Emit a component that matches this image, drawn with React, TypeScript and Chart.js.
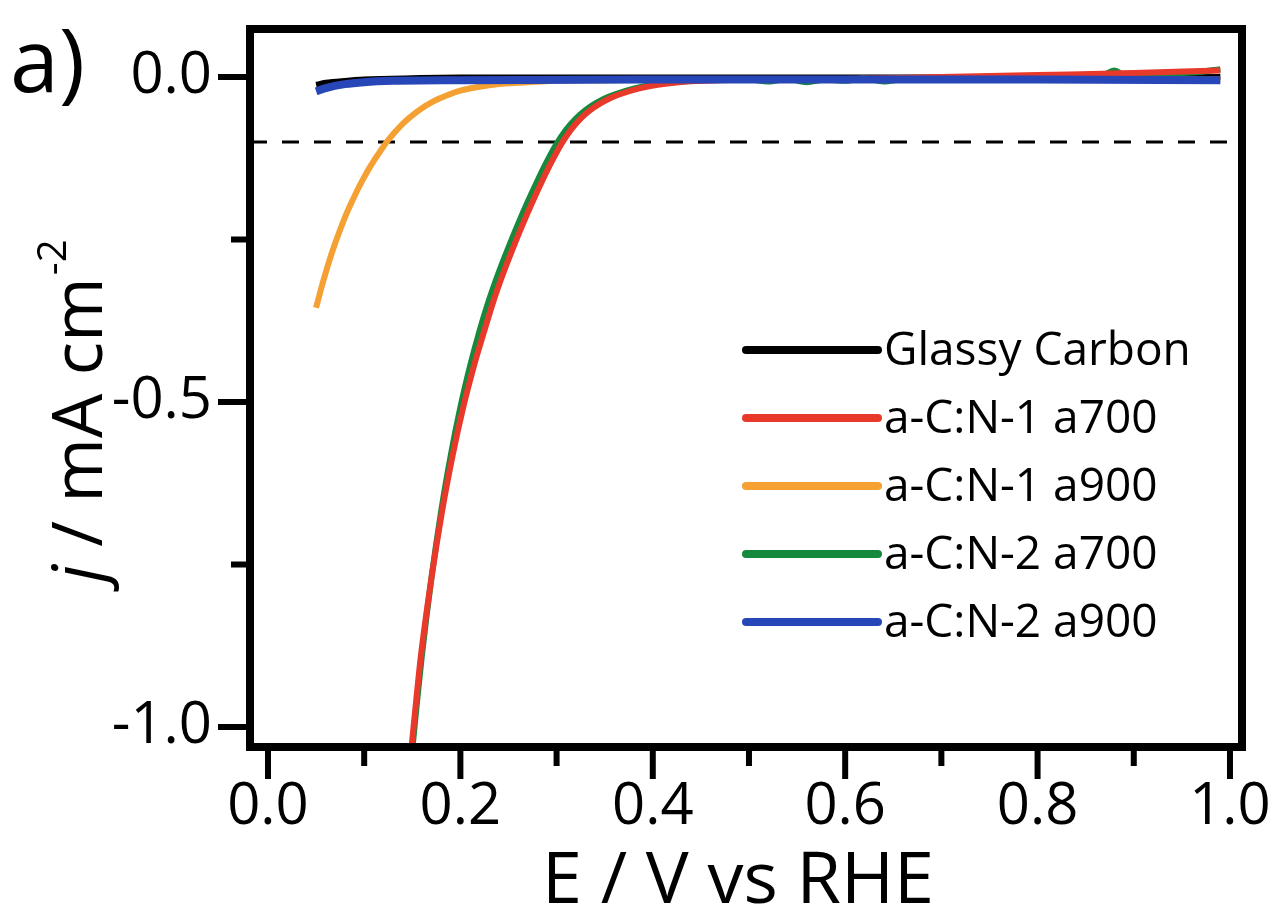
import { useEffect, useRef } from "react";
import { Chart, registerables } from "chart.js";

Chart.register(...registerables);

const FONT = '"Open Sans", "Noto Sans", sans-serif';

// Series names and colours (legend order)
const seriesNames = ["Glassy Carbon", "a-C:N-1 a700", "a-C:N-1 a900", "a-C:N-2 a700", "a-C:N-2 a900"];
const seriesColors = ["#000000", "#e8392b", "#f5a033", "#17893d", "#2747b8"];

// Glassy Carbon
const glassyE = [0.05, 0.06, 0.08, 0.1, 0.15, 0.2, 0.3, 0.4, 0.5, 0.6, 0.7, 0.8, 0.9, 0.99];
const glassyJ = [-0.012, -0.009, -0.006, -0.004, -0.002, -0.001, -0.001, -0.001, -0.001, -0.001, -0.001, -0.001, -0.001, 0.0];

// a-C:N-1 a700
const n1a700E = [0.146, 0.149, 0.154, 0.159, 0.17, 0.181, 0.192, 0.203, 0.214, 0.225, 0.235, 0.245, 0.255, 0.265, 0.275, 0.285, 0.295, 0.305, 0.315, 0.325, 0.335, 0.345, 0.355, 0.365, 0.385, 0.405, 0.435, 0.47, 0.5, 0.6, 0.7, 0.8, 0.9, 0.99];
const n1a700J = [-1.08, -1.035, -0.96, -0.89, -0.77, -0.668, -0.582, -0.508, -0.445, -0.39, -0.342, -0.3, -0.262, -0.226, -0.192, -0.16, -0.13, -0.103, -0.081, -0.064, -0.051, -0.041, -0.033, -0.027, -0.018, -0.012, -0.007, -0.005, -0.004, -0.003, 0.0, 0.003, 0.006, 0.01];

// a-C:N-1 a900
const n1a900E = [0.05, 0.055, 0.06, 0.065, 0.07, 0.075, 0.08, 0.085, 0.09, 0.095, 0.1, 0.105, 0.11, 0.115, 0.12, 0.125, 0.13, 0.14, 0.15, 0.16, 0.17, 0.18, 0.19, 0.2, 0.22, 0.24, 0.26, 0.3, 0.35, 0.4, 0.5, 0.6, 0.7, 0.8, 0.9, 0.99];
const n1a900J = [-0.355, -0.327, -0.301, -0.277, -0.255, -0.235, -0.216, -0.199, -0.183, -0.168, -0.154, -0.141, -0.129, -0.118, -0.107, -0.097, -0.088, -0.072, -0.059, -0.048, -0.039, -0.032, -0.026, -0.021, -0.015, -0.011, -0.009, -0.006, -0.005, -0.004, -0.004, -0.004, -0.004, -0.004, -0.004, -0.004];

// a-C:N-2 a700
const n2a700E = [0.147, 0.15, 0.155, 0.16, 0.17, 0.18, 0.19, 0.2, 0.21, 0.22, 0.23, 0.24, 0.25, 0.26, 0.27, 0.28, 0.29, 0.3, 0.31, 0.32, 0.33, 0.34, 0.35, 0.36, 0.38, 0.4, 0.43, 0.46, 0.5, 0.52, 0.54, 0.56, 0.58, 0.6, 0.62, 0.64, 0.66, 0.7, 0.75, 0.8, 0.85, 0.87, 0.88, 0.89, 0.92, 0.95, 0.97, 0.99];
const n2a700J = [-1.08, -1.035, -0.96, -0.89, -0.77, -0.668, -0.582, -0.508, -0.445, -0.39, -0.342, -0.3, -0.262, -0.226, -0.192, -0.16, -0.13, -0.103, -0.081, -0.064, -0.051, -0.041, -0.033, -0.027, -0.018, -0.012, -0.007, -0.005, -0.004, -0.007, -0.003, -0.008, -0.004, -0.006, -0.002, -0.007, -0.003, -0.002, -0.001, 0.0, 0.002, 0.004, 0.01, 0.003, 0.005, 0.006, 0.008, 0.012];

// a-C:N-2 a900
const n2a900E = [0.05, 0.06, 0.08, 0.1, 0.13, 0.2, 0.4, 0.6, 0.8, 0.99];
const n2a900J = [-0.022, -0.017, -0.011, -0.008, -0.006, -0.005, -0.004, -0.004, -0.004, -0.005];

const seriesE = [glassyE, n1a700E, n1a900E, n2a700E, n2a900E];
const seriesJ = [glassyJ, n1a700J, n1a900J, n2a700J, n2a900J];
// drawing order: higher number is painted underneath
const seriesOrder = [4, 1, 3, 2, 0];

// Axes
const xMin = -0.0187;
const xMax = 1.0125;
const yMin = -1.0308;
const yMax = 0.0738;
const xMajorTicks = [0.0, 0.2, 0.4, 0.6, 0.8, 1.0];
const xMinorTicks = [0.1, 0.3, 0.5, 0.7, 0.9];
const yMajorTicks = [0.0, -0.5, -1.0];
const yMinorTicks = [-0.25, -0.75];
const onsetLevel = -0.1;

const xTitle = "E / V vs RHE";
const panelLabel = "a)";

const decorPlugin = {
  id: "decor",
  beforeDatasetsDraw(chart: any) {
    const { ctx, chartArea: a, scales } = chart;
    const yy = scales.y.getPixelForValue(onsetLevel);
    ctx.save();
    ctx.strokeStyle = "#000";
    ctx.lineWidth = 3;
    ctx.setLineDash([17, 15]);
    ctx.beginPath();
    ctx.moveTo(a.left, yy);
    ctx.lineTo(a.right, yy);
    ctx.stroke();
    ctx.restore();
  },
  afterDatasetsDraw(chart: any) {
    const { ctx, chartArea: a, scales } = chart;
    const x = scales.x;
    const y = scales.y;
    ctx.save();
    ctx.strokeStyle = "#000";
    ctx.lineWidth = 8;
    ctx.lineJoin = "miter";
    ctx.strokeRect(a.left, a.top, a.right - a.left, a.bottom - a.top);
    ctx.lineWidth = 6;
    ctx.lineCap = "butt";
    ctx.beginPath();
    xMajorTicks.forEach((v) => {
      const px = x.getPixelForValue(v);
      ctx.moveTo(px, a.bottom);
      ctx.lineTo(px, a.bottom + 32);
    });
    xMinorTicks.forEach((v) => {
      const px = x.getPixelForValue(v);
      ctx.moveTo(px, a.bottom);
      ctx.lineTo(px, a.bottom + 19);
    });
    yMajorTicks.forEach((v) => {
      const py = y.getPixelForValue(v);
      ctx.moveTo(a.left, py);
      ctx.lineTo(a.left - 32, py);
    });
    yMinorTicks.forEach((v) => {
      const py = y.getPixelForValue(v);
      ctx.moveTo(a.left, py);
      ctx.lineTo(a.left - 19, py);
    });
    ctx.stroke();
    ctx.restore();
  },
  afterDraw(chart: any) {
    const { ctx, chartArea: a } = chart;
    ctx.save();
    ctx.fillStyle = "#000";

    // legend
    ctx.font = `46px ${FONT}`;
    ctx.textBaseline = "middle";
    ctx.textAlign = "left";
    const rowTop = 350;
    const rowStep = 68;
    chart.data.datasets.forEach((ds: any, i: number) => {
      const ry = rowTop + i * rowStep;
      ctx.strokeStyle = ds.borderColor;
      ctx.lineWidth = 8;
      ctx.lineCap = "round";
      ctx.beginPath();
      ctx.moveTo(746, ry);
      ctx.lineTo(878, ry);
      ctx.stroke();
      ctx.fillText(ds.label, 884, ry + 2);
    });

    // x title
    ctx.textBaseline = "alphabetic";
    ctx.textAlign = "center";
    ctx.font = `72px ${FONT}`;
    ctx.fillText(xTitle, (a.left + a.right) / 2 - 8, 903);

    // y title: italic j, unit with superscript
    ctx.save();
    ctx.translate(102, 412);
    ctx.rotate(-Math.PI / 2);
    ctx.textAlign = "left";
    const fItal = `italic 70px ${FONT}`;
    const fMain = `70px ${FONT}`;
    const fSup = `40px ${FONT}`;
    const p1 = "j";
    const p2 = " / mA cm";
    const p3 = "-2";
    ctx.font = fItal;
    const w1 = ctx.measureText(p1).width;
    ctx.font = fMain;
    const w2 = ctx.measureText(p2).width;
    ctx.font = fSup;
    const w3 = ctx.measureText(p3).width;
    let sx = -(w1 + w2 + w3) / 2;
    ctx.font = fItal;
    ctx.fillText(p1, sx, 0);
    sx += w1;
    ctx.font = fMain;
    ctx.fillText(p2, sx, 0);
    sx += w2;
    ctx.font = fSup;
    ctx.fillText(p3, sx + 2, -36);
    ctx.restore();

    // panel label
    ctx.textAlign = "left";
    ctx.font = `88px ${FONT}`;
    ctx.fillText(panelLabel, 10, 92);
    ctx.restore();
  },
};

const noOverflow = (scale: any) => {
  scale.paddingLeft = 0;
  scale.paddingRight = 0;
  scale.paddingTop = 0;
  scale.paddingBottom = 0;
};

export default function App() {
  const canvasRef = useRef<HTMLCanvasElement | null>(null);

  useEffect(() => {
    const canvas = canvasRef.current;
    if (!canvas) return;
    const datasets = seriesNames.map((name, i) => ({
      label: name,
      data: seriesE[i].map((e, k) => ({ x: e, y: seriesJ[i][k] })),
      borderColor: seriesColors[i],
      backgroundColor: seriesColors[i],
      borderWidth: i === 4 ? 8 : 6,
      pointRadius: 0,
      cubicInterpolationMode: "monotone" as const,
      fill: false,
      order: seriesOrder[i],
    }));

    const chart = new Chart(canvas, {
      type: "line",
      data: { datasets },
      options: {
        animation: false,
        responsive: false,
        devicePixelRatio: 1,
        layout: { padding: { top: 29, right: 36, left: 0, bottom: 0 } },
        plugins: {
          legend: { display: false },
          tooltip: { enabled: false },
          title: { display: false },
        },
        scales: {
          x: {
            type: "linear",
            min: xMin,
            max: xMax,
            grid: { display: false, drawTicks: false },
            border: { display: false },
            afterBuildTicks: (scale: any) => {
              scale.ticks = xMajorTicks.map((v) => ({ value: v }));
            },
            afterFit: (scale: any) => {
              scale.height = 170;
              noOverflow(scale);
            },
            ticks: {
              padding: 26,
              color: "#000",
              font: { family: FONT, size: 58 },
              maxRotation: 0,
              autoSkip: false,
              callback: (v: any) => Number(v).toFixed(1),
            },
          },
          y: {
            type: "linear",
            min: yMin,
            max: yMax,
            grid: { display: false, drawTicks: false },
            border: { display: false },
            afterBuildTicks: (scale: any) => {
              scale.ticks = yMajorTicks.map((v) => ({ value: v }));
            },
            afterFit: (scale: any) => {
              scale.width = 250;
              noOverflow(scale);
            },
            ticks: {
              padding: 38,
              color: "#000",
              font: { family: FONT, size: 58 },
              autoSkip: false,
              callback: (v: any) => Number(v).toFixed(1),
            },
          },
        },
      },
      plugins: [decorPlugin],
    });
    return () => chart.destroy();
  }, []);

  return (
    <div style={{ position: "absolute", left: 0, top: 0, width: 1278, height: 917, background: "#fff" }}>
      <canvas ref={canvasRef} width={1278} height={917} style={{ display: "block" }} />
    </div>
  );
}
